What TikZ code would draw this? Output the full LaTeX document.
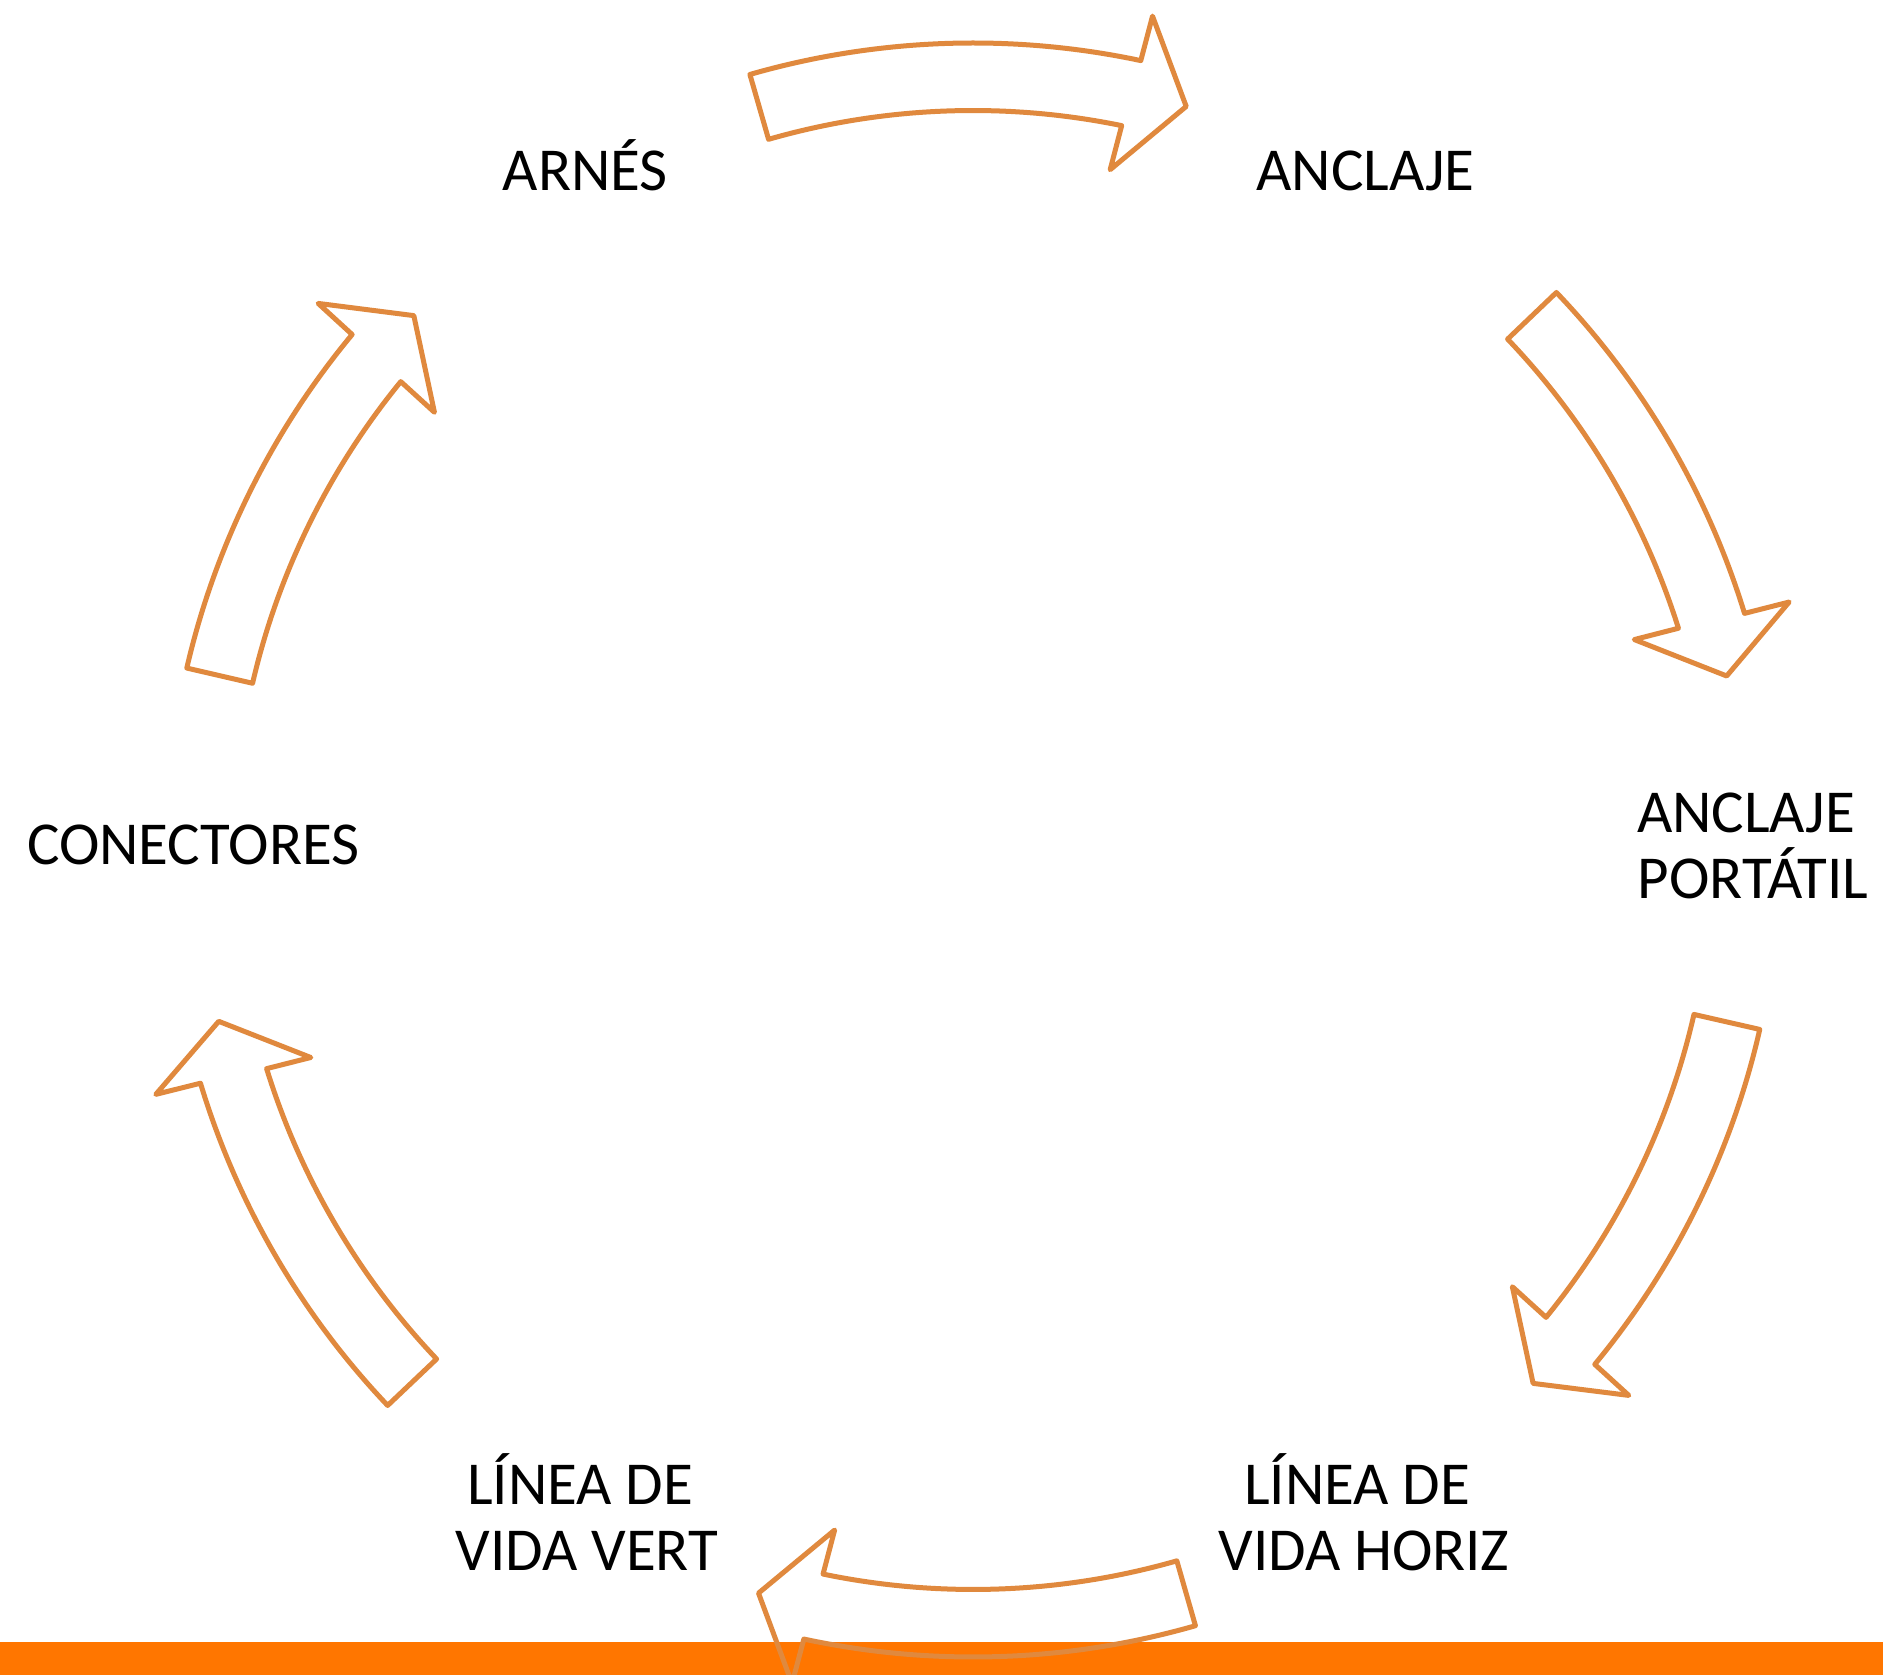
\documentclass[tikz,border=0pt]{standalone}
\usepackage{fontspec}
\setmainfont{Carlito}
\usetikzlibrary{calc}
\definecolor{arrowc}{HTML}{E0893E}
\definecolor{barc}{HTML}{FF7600}
\newcommand\cyclearrow[3]{%
  \draw[cyclearrowstyle] ($(c)+({#1}:807)$)
    arc[start angle={#1}, end angle={#2-0.2}, radius=807]
    -- ($(c)+({#2-0.35}:853)$)
    -- ($(c)+({#3}:773.5)$)
    -- ($(c)+({#2+0.4}:694)$)
    -- ($(c)+({#2+0.2}:739.5)$)
    arc[start angle={#2+0.2}, end angle={#1}, radius=739.5]
    -- cycle;}
\tikzset{
  cyclearrowstyle/.style={draw=arrowc, line width=5pt, line join=round},
  lbl/.style={inner sep=0pt, font=\fontsize{61}{66}\selectfont, text=black},
}
\begin{document}
\begin{tikzpicture}[x=1pt,y=1pt]
\clip (0,0) rectangle (1883,1675);
\fill[white] (0,0) rectangle (1883,1675);
\coordinate (c) at (973,825);
% bottom bar
\fill[barc] (0,0) rectangle (1883,33);
% arrows
\cyclearrow{106.05}{78.2}{74.0}
\cyclearrow{43.7}{17.25}{13.0}
\cyclearrow{-12.85}{-39.4}{-43.6}
\cyclearrow{-74.0}{-101.9}{-106.1}
\cyclearrow{-136.5}{-163.0}{-167.2}
\cyclearrow{166.97}{140.5}{136.3}
% labels
\node[lbl, anchor=base] (arnes) at (585.3,1484.3) {ARNÉS};
\node[lbl, anchor=base] (anclaje) at (1365.5,1484.3) {ANCLAJE};
\node[lbl, anchor=base, align=center] (portatil) at (1753,776.7) {ANCLAJE\hphantom{ }\\PORTÁTIL};
\node[lbl, anchor=base, align=center] (horiz) at (1364,104.5) {LÍNEA DE\hphantom{ }\\VIDA HORIZ};
\node[lbl, anchor=base, align=center] (vert) at (587,104.5) {LÍNEA DE\hphantom{ }\\VIDA VERT};
\node[lbl, anchor=base] (conectores) at (193.3,810) {CONECTORES};
\end{tikzpicture}
\end{document}
